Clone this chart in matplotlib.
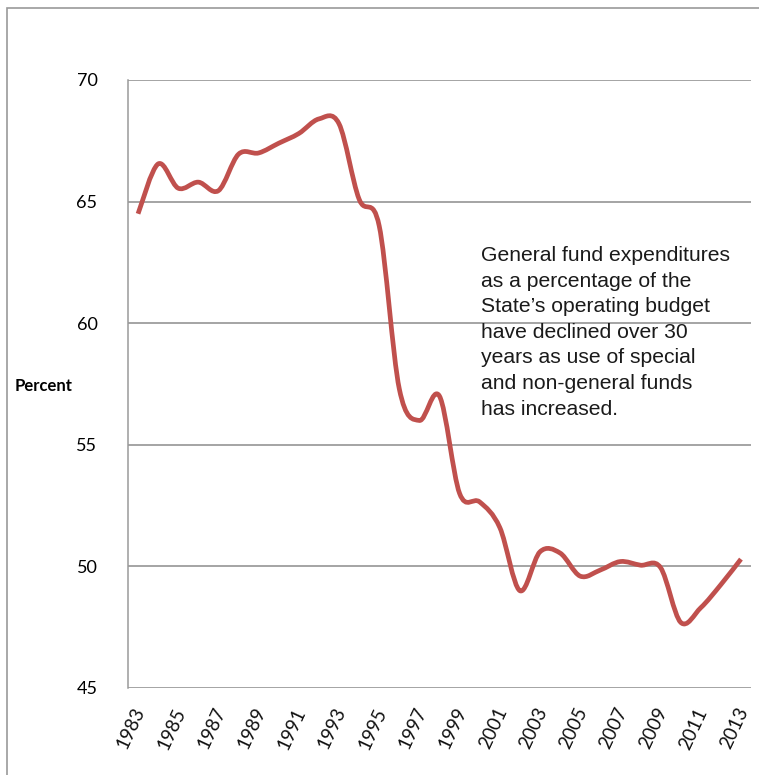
import matplotlib.pyplot as plt
import matplotlib.transforms as mtransforms
from matplotlib.path import Path
from matplotlib.patches import PathPatch, Rectangle

years = list(range(1983, 2014))
pct = [64.5, 66.55, 65.55, 65.8, 65.45, 66.95, 67.0, 67.4, 67.8, 68.4,
       68.2, 65.1, 64.0, 57.3, 56.0, 57.0, 53.0, 52.65, 51.6, 49.0,
       50.6, 50.55, 49.6, 49.85, 50.2, 50.05, 49.95, 47.7, 48.3, 49.25,
       50.3]
tick_years = [str(y) for y in years[::2]]
note = ("General fund expenditures\nas a percentage of the\n"
        "State\u2019s operating budget\nhave declined over 30\n"
        "years as use of special\nand non-general funds\nhas increased.")

RED = '#C0504D'
GRID = '#8c8c8c'


def smooth_path(xs, ys):
    # Excel-style smoothed line: cubic bezier segments through every point
    verts = [(xs[0], ys[0])]
    codes = [Path.MOVETO]
    n = len(xs)
    for i in range(n - 1):
        x0, y0 = (xs[i - 1], ys[i - 1]) if i > 0 else (xs[i], ys[i])
        x1, y1 = xs[i], ys[i]
        x2, y2 = xs[i + 1], ys[i + 1]
        x3, y3 = (xs[i + 2], ys[i + 2]) if i + 2 < n else (x2, y2)
        verts += [(x1 + (x2 - x0) / 6, y1 + (y2 - y0) / 6),
                  (x2 - (x3 - x1) / 6, y2 - (y3 - y1) / 6),
                  (x2, y2)]
        codes += [Path.CURVE4] * 3
    return Path(verts, codes)


fig = plt.figure(figsize=(7.59, 7.75), dpi=100)
# outer chart frame (runs off the right and bottom edges)
fig.patches.append(Rectangle((7 / 759, -0.1), 1.2, 1.1 - 8 / 775,
                             transform=fig.transFigure, fill=False,
                             edgecolor='#9a9a9a', lw=1.2))
ax = fig.add_axes([128 / 759, 87 / 775, 623 / 759, 608 / 775])

idx = list(range(len(years)))
ax.add_patch(PathPatch(smooth_path(idx, pct), fill=False, edgecolor=RED,
                       lw=3.4, capstyle='butt', joinstyle='round', zorder=3))

ax.set_xlim(-0.5, len(years) - 0.5)
ax.set_ylim(45, 70)
ax.set_yticks([45, 50, 55, 60, 65, 70])
ax.yaxis.grid(True, color=GRID, lw=1.1)
ax.set_axisbelow(True)
for s in ['top', 'right', 'bottom']:
    ax.spines[s].set_visible(False)
ax.spines['left'].set_color('#9a9a9a')
ax.spines['left'].set_linewidth(1.1)
ax.tick_params(length=0)
ax.tick_params(axis='y', pad=22, labelsize=13)
for lab in ax.get_yticklabels():
    lab.set_family('Lato')

# year labels, rotated like the original category axis
ax.set_xticks([])
off = mtransforms.ScaledTranslation(10 / 100, -17 / 100, fig.dpi_scale_trans)
trans = ax.get_xaxis_transform() + off
for i, lab in zip(idx[::2], tick_years):
    ax.text(i, 0, lab, transform=trans, rotation=65, ha='right', va='top',
            family='Lato', fontsize=13.5, color='#111111')

fig.text(15 / 759, 1 - 386 / 775, 'Percent', family='Lato', weight='bold',
         fontsize=12, va='center', ha='left')
fig.text(481 / 759, 1 - 246 / 775, note, family='Liberation Sans',
         fontsize=15.2, va='top', ha='left', linespacing=1.44, color='#1a1a1a')

fig.savefig('out.png', dpi=100)
